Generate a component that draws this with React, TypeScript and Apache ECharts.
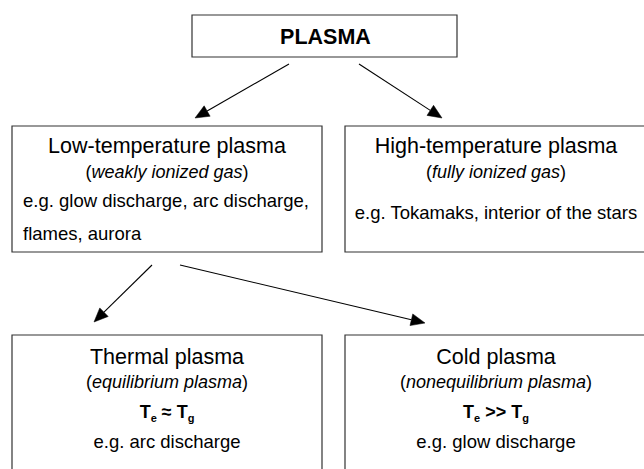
import React, { useEffect, useRef } from "react";
import * as echarts from "echarts";

const FONT = "'Liberation Sans', Arial, sans-serif";

// Diagram content
const rootLabel = "PLASMA";
const rootBox = [192, 15, 265, 42];

const boxes = [
  [12, 126, 310, 126],
  [345, 126, 310, 126],
  [12, 335, 310, 200],
  [345, 335, 310, 200],
];
const boxTitles = ["Low-temperature plasma", "High-temperature plasma", "Thermal plasma", "Cold plasma"];
const boxSubtitles = ["weakly ionized gas", "fully ionized gas", "equilibrium plasma", "nonequilibrium plasma"];
const boxRelations = ["", "", "{b|T}{s|e}{b| ≈ T}{s|g}", "{b|T}{s|e}{b| >> T}{s|g}"];
const boxExamples = [
  ["e.g. glow discharge, arc discharge,", "flames, aurora"],
  ["e.g. Tokamaks, interior of the stars"],
  ["e.g. arc discharge"],
  ["e.g. glow discharge"],
];

// arrows: [x1, y1, x2, y2]
const arrows = [
  [289, 64, 195, 118],
  [359, 64, 442, 118],
  [152, 265, 94, 322],
  [180, 265, 425, 323],
];

export default function App() {
  const ref = useRef<HTMLDivElement>(null);
  useEffect(() => {
    document.body.style.margin = "0";
    const chart = echarts.init(ref.current!, null, { renderer: "svg" });
    const stroke = "#333";
    const elements: any[] = [];

    elements.push({
      type: "rect",
      shape: { x: rootBox[0], y: rootBox[1], width: rootBox[2], height: rootBox[3] },
      style: { fill: "#fff", stroke, lineWidth: 1.2 },
    });
    elements.push({
      type: "text",
      x: rootBox[0] + rootBox[2] / 2 + 1,
      y: rootBox[1] + rootBox[3] / 2 + 1,
      style: {
        text: rootLabel,
        fontFamily: FONT,
        fontSize: 21.5,
        fontWeight: "bold",
        fill: "#000",
        align: "center",
        verticalAlign: "middle",
      },
    });

    boxes.forEach((b, i) => {
      const [x, y, w, h] = b;
      const cx = i % 2 === 0 ? 167 : 496;
      elements.push({
        type: "rect",
        shape: { x, y, width: w, height: h },
        style: { fill: "#fff", stroke, lineWidth: 1.2 },
      });
      const top = y;
      const row3 = i >= 2;
      elements.push({
        type: "text",
        x: cx,
        y: top + (row3 ? 22 : 20),
        style: {
          text: boxTitles[i],
          fontFamily: FONT,
          fontSize: 21.5,
          fill: "#000",
          align: "center",
          verticalAlign: "middle",
        },
      });
      elements.push({
        type: "text",
        x: cx,
        y: top + (row3 ? 47 : 46),
        style: {
          text: "{n|(}{i|" + boxSubtitles[i] + "}{n|)}",
          align: "center",
          verticalAlign: "middle",
          rich: {
            n: { fontFamily: FONT, fontSize: 18, fill: "#000" },
            i: { fontFamily: FONT, fontSize: 18, fontStyle: "italic", fill: "#000" },
          },
        },
      });
      if (boxRelations[i]) {
        elements.push({
          type: "text",
          x: cx,
          y: top + 77,
          style: {
            text: boxRelations[i],
            align: "center",
            verticalAlign: "middle",
            rich: {
              b: { fontFamily: FONT, fontSize: 18, fontWeight: "bold", fill: "#000", lineHeight: 22, verticalAlign: "middle" },
              s: { fontFamily: FONT, fontSize: 11, fontWeight: "bold", fill: "#000", lineHeight: 10, verticalAlign: "bottom" },
            },
          },
        });
      }
      const ex = boxExamples[i];
      if (i === 0) {
        ex.forEach((t, k) => {
          elements.push({
            type: "text",
            x: 23,
            y: top + 74 + k * 33,
            style: { text: t, fontFamily: FONT, fontSize: 18.5, fill: "#000", align: "left", verticalAlign: "middle" },
          });
        });
      } else {
        elements.push({
          type: "text",
          x: cx,
          y: top + (row3 ? 106 : 86),
          style: { text: ex[0], fontFamily: FONT, fontSize: 18.5, fill: "#000", align: "center", verticalAlign: "middle" },
        });
      }
    });

    arrows.forEach((a) => {
      const [x1, y1, x2, y2] = a;
      const dx = x2 - x1;
      const dy = y2 - y1;
      const len = Math.sqrt(dx * dx + dy * dy);
      const ux = dx / len;
      const uy = dy / len;
      const L = 14;
      const W = 6;
      const bx = x2 - ux * L;
      const by = y2 - uy * L;
      elements.push({
        type: "line",
        shape: { x1, y1, x2: bx, y2: by },
        style: { stroke: "#000", lineWidth: 1.1 },
      });
      elements.push({
        type: "polygon",
        shape: {
          points: [
            [x2, y2],
            [bx - uy * W, by + ux * W],
            [bx + uy * W, by - ux * W],
          ],
        },
        style: { fill: "#000", stroke: "#000", lineWidth: 0.5 },
      });
    });

    chart.setOption({
      animation: false,
      backgroundColor: "#fff",
      graphic: { elements },
    });
    return () => chart.dispose();
  }, []);
  return <div ref={ref} style={{ width: 644, height: 469 }} />;
}
